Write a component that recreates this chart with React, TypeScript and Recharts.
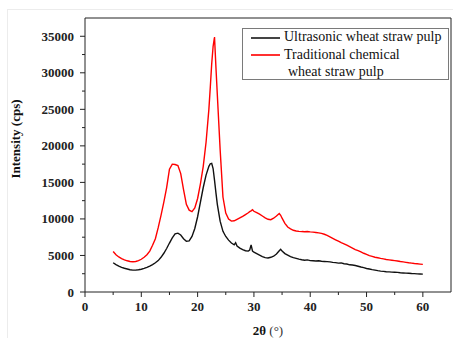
import React from 'react';
import { LineChart, Line, XAxis, YAxis, Legend, ReferenceLine } from 'recharts';

const FONT = '"Liberation Serif", "Times New Roman", Times, serif';

const twoTheta = [
  5, 5.5, 6, 6.5, 7, 7.5, 8, 8.5, 9, 9.5, 10, 10.5, 11, 11.5, 12, 12.5, 13, 13.5, 14, 14.5,
  15, 15.5, 16, 16.5, 17, 17.5, 18, 18.5, 19, 19.5, 20, 20.5, 21, 21.5, 22, 22.25, 22.5, 22.75,
  23, 23.25, 23.5, 24, 24.5, 25, 25.5, 26, 26.5, 26.75, 27, 27.5, 28, 28.5, 29, 29.25, 29.5,
  29.75, 30, 30.5, 31, 31.5, 32, 32.5, 33, 33.5, 34, 34.5, 34.75, 35, 35.5, 36, 36.5, 37, 37.5,
  38, 38.5, 39, 39.5, 40, 40.5, 41, 41.5, 42, 42.5, 43, 43.5, 44, 44.5, 45, 45.5, 46, 46.5, 47,
  47.5, 48, 48.5, 49, 49.5, 50, 50.5, 51, 51.5, 52, 52.5, 53, 53.5, 54, 54.5, 55, 55.5, 56, 56.5,
  57, 57.5, 58, 58.5, 59, 59.5, 60,
];

const ultrasonic = [
  4000, 3750, 3550, 3380, 3250, 3150, 3050, 3000, 3000, 3050, 3120, 3230, 3380, 3550, 3750, 4000,
  4300, 4750, 5300, 5950, 6700, 7400, 7950, 8050, 7800, 7300, 6950, 7000, 7600, 8700, 10300, 12300,
  14300, 16000, 17200, 17550, 17600, 16900, 15300, 13600, 12000, 9700, 8300, 7600, 7100, 6700, 6450,
  6750, 6300, 6000, 5800, 5650, 5600, 5750, 6450, 5600, 5450, 5250, 5050, 4850, 4700, 4650, 4750,
  4900, 5200, 5650, 5850, 5600, 5250, 5050, 4850, 4700, 4600, 4500, 4420, 4350, 4400, 4300, 4280,
  4250, 4270, 4200, 4180, 4150, 4120, 4050, 4020, 3950, 3980, 3870, 3830, 3720, 3700, 3620, 3520,
  3420, 3330, 3220, 3150, 3060, 2990, 2920, 2860, 2820, 2780, 2750, 2720, 2700, 2680, 2640, 2610,
  2580, 2560, 2530, 2510, 2480, 2460, 2440,
];

const traditional = [
  5550, 5100, 4800, 4580, 4400, 4270, 4180, 4150, 4180, 4300, 4480, 4750, 5100, 5600, 6400, 7300,
  8800, 10500, 12300, 14300, 16800, 17500, 17450, 17300, 16200, 14000, 12000, 11200, 11000, 11500,
  12800, 14800, 17200, 20500, 25000, 28000, 31200, 33600, 34900, 30800, 27000, 19500, 13000, 10800,
  10000, 9700, 9750, 9850, 9950, 10150, 10350, 10600, 10850, 11000, 11100, 11250, 11050, 10850,
  10650, 10400, 10150, 9950, 9900, 10100, 10400, 10750, 10500, 10100, 9400, 8900, 8650, 8450, 8350,
  8300, 8270, 8250, 8280, 8230, 8200, 8150, 8100, 8020, 7900, 7750, 7550, 7350, 7150, 6950, 6750,
  6600, 6400, 6200, 6000, 5800, 5650, 5480, 5300, 5150, 4980, 4870, 4760, 4680, 4600, 4530, 4450,
  4400, 4350, 4300, 4250, 4180, 4120, 4060, 4000, 3950, 3900, 3860, 3820, 3780,
];

const xTicks = [0, 5, 10, 15, 20, 25, 30, 35, 40, 45, 50, 55, 60];
const yTicks = [0, 2500, 5000, 7500, 10000, 12500, 15000, 17500, 20000, 22500, 25000, 27500, 30000, 32500, 35000];
const X_MAX = 65;
const Y_MAX = 37500;

const seriesNames = {
  u: 'Ultrasonic wheat straw pulp',
  t1: 'Traditional chemical',
  t2: 'wheat straw pulp',
};

const data = twoTheta.map((x, i) => ({ x, u: ultrasonic[i], t: traditional[i] }));

const AXIS = '#222';
const TICK = 5;
const Y_MARGIN = 6;
const X_MARGIN = 5;

const YTick = (props: any) => {
  const { x, y, payload } = props;
  const v = payload.value;
  const major = v % 5000 === 0;
  const ax = x + TICK + Y_MARGIN;
  return (
    <g>
      <line x1={ax} x2={ax - (major ? TICK : 3)} y1={y} y2={y} stroke={AXIS} strokeWidth={1} />
      {major && (
        <text x={x} y={y} dy="0.35em" textAnchor="end" fontFamily={FONT} fontSize={13} fontWeight="bold" fill="#222">
          {v}
        </text>
      )}
    </g>
  );
};

const XTick = (props: any) => {
  const { x, y, payload } = props;
  const v = payload.value;
  const major = v % 10 === 0;
  const ay = y - TICK - X_MARGIN;
  return (
    <g>
      <line x1={x} x2={x} y1={ay} y2={ay + (major ? TICK : 3)} stroke={AXIS} strokeWidth={1} />
      {major && (
        <text x={x} y={y} dy="0.71em" textAnchor="middle" fontFamily={FONT} fontSize={13} fontWeight="bold" fill="#222">
          {v}
        </text>
      )}
    </g>
  );
};

const XLabel = (props: any) => {
  const vb = props.viewBox;
  return (
    <text x={vb.x + vb.width / 2} y={vb.y + vb.height - 3} textAnchor="middle" fontFamily={FONT} fontSize={13} fill="#111">
      <tspan fontWeight="bold">2θ</tspan>
      <tspan fill="#333"> (°)</tspan>
    </text>
  );
};

const YLabel = (props: any) => {
  const vb = props.viewBox;
  const cx = vb.x + 15;
  const cy = vb.y + vb.height / 2 - 16;
  return (
    <text x={cx} y={cy} transform={`rotate(-90 ${cx} ${cy})`} textAnchor="middle" dominantBaseline="central" fontFamily={FONT} fontSize={13} fontWeight="bold" fill="#111">
      Intensity (cps)
    </text>
  );
};

const LegendBox = () => (
  <div
    style={{
      width: 207,
      height: 52,
      border: '1px solid #7a7a7a',
      boxSizing: 'border-box',
      position: 'relative',
      fontFamily: FONT,
      fontSize: 14,
      color: '#111',
      background: '#fff',
    }}
  >
    <div style={{ position: 'absolute', left: 8, top: 8, width: 29, borderTop: '2px solid #444' }} />
    <div style={{ position: 'absolute', left: 41, top: 0, lineHeight: '16px', whiteSpace: 'nowrap' }}>{seriesNames.u}</div>
    <div style={{ position: 'absolute', left: 8, top: 25, width: 29, borderTop: '2px solid #ff3030' }} />
    <div style={{ position: 'absolute', left: 41, top: 18, lineHeight: '16px', whiteSpace: 'nowrap' }}>{seriesNames.t1}</div>
    <div style={{ position: 'absolute', left: 45, top: 35, lineHeight: '16px', whiteSpace: 'nowrap' }}>{seriesNames.t2}</div>
  </div>
);

export default function App() {
  return (
    <div style={{ position: 'absolute', left: 0, top: 0, width: 453, height: 338, background: '#fff' }}>
      <div
        style={{
          position: 'absolute',
          left: 7,
          top: 9,
          width: 460,
          height: 340,
          borderLeft: '1px solid #ececec',
          borderTop: '1px solid #ececec',
        }}
      />
      <LineChart
        width={453}
        height={338}
        data={data}
        margin={{ top: 18, right: 2, bottom: 0, left: 0 }}
        style={{ position: 'absolute', left: 0, top: 0 }}
      >
        <XAxis
          dataKey="x"
          type="number"
          domain={[0, X_MAX]}
          ticks={xTicks}
          interval={0}
          height={46}
          tickSize={TICK}
          tickMargin={X_MARGIN}
          tickLine={false}
          tick={<XTick />}
          axisLine={{ stroke: AXIS, strokeWidth: 1 }}
          label={<XLabel />}
        />
        <YAxis
          type="number"
          domain={[0, Y_MAX]}
          ticks={yTicks}
          interval={0}
          width={85}
          tickSize={TICK}
          tickMargin={Y_MARGIN}
          tickLine={false}
          tick={<YTick />}
          axisLine={{ stroke: AXIS, strokeWidth: 1 }}
          label={<YLabel />}
        />
        <ReferenceLine y={Y_MAX} stroke={AXIS} strokeWidth={1} ifOverflow="visible" />
        <ReferenceLine x={X_MAX} stroke={AXIS} strokeWidth={1} ifOverflow="visible" />
        <Legend
          layout="vertical"
          align="center"
          verticalAlign="middle"
          content={<LegendBox />}
          wrapperStyle={{ position: 'absolute', left: 242, top: 28, width: 207, height: 52 }}
        />
        <Line
          type="linear"
          dataKey="u"
          name={seriesNames.u}
          stroke="#111"
          strokeWidth={1.4}
          dot={false}
          isAnimationActive={false}
        />
        <Line
          type="linear"
          dataKey="t"
          name={seriesNames.t1}
          stroke="#ff0000"
          strokeWidth={1.4}
          dot={false}
          isAnimationActive={false}
        />
      </LineChart>
    </div>
  );
}
